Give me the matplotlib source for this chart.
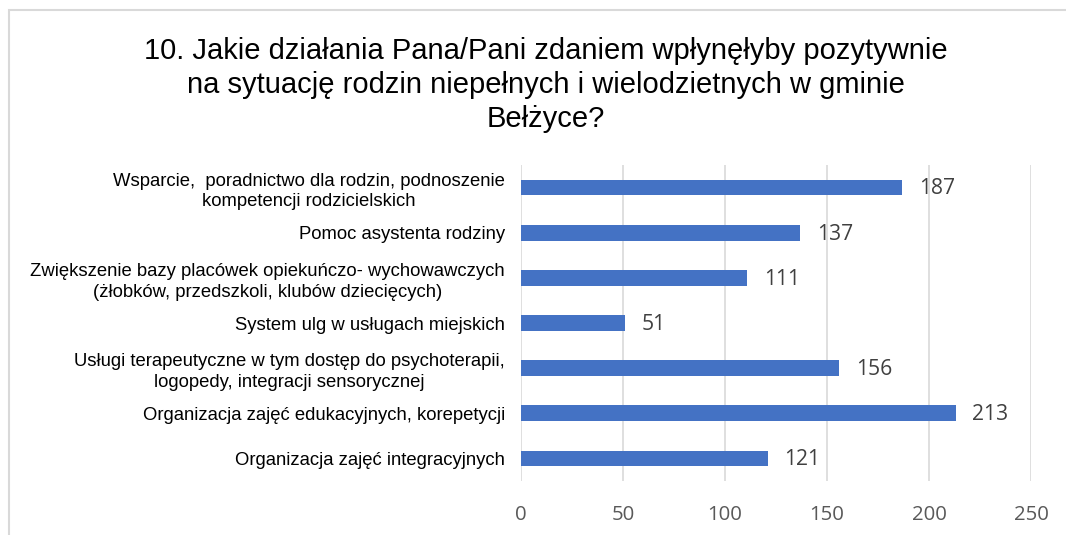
import matplotlib.pyplot as plt
from matplotlib.patches import Rectangle

categories = [
    "Wsparcie,  poradnictwo dla rodzin, podnoszenie\nkompetencji rodzicielskich",
    "Pomoc asystenta rodziny",
    "Zwiększenie bazy placówek opiekuńczo- wychowawczych\n(żłobków, przedszkoli, klubów dziecięcych)",
    "System ulg w usługach miejskich",
    "Usługi terapeutyczne w tym dostęp do psychoterapii,\nlogopedy, integracji sensorycznej",
    "Organizacja zajęć edukacyjnych, korepetycji",
    "Organizacja zajęć integracyjnych",
]
values = [187, 137, 111, 51, 156, 213, 121]
xticks = [0, 50, 100, 150, 200, 250]

title = ("10. Jakie działania Pana/Pani zdaniem wpłynęłyby pozytywnie\n"
         "na sytuację rodzin niepełnych i wielodzietnych w gminie\nBełżyce?")

fig = plt.figure(figsize=(10.66, 5.35), dpi=100)
fig.patches.append(Rectangle((9 / 1066, -0.01), 1.1, 1 - 10 / 535 + 0.01,
                             transform=fig.transFigure, fill=False,
                             edgecolor="#D9D9D9", linewidth=1.5))

ax = fig.add_axes([521 / 1066, 1 - 481 / 535, 510 / 1066, 316 / 535])
pos = list(range(len(categories)))
ax.barh(pos, values, height=0.35, color="#4472C4")
ax.set_ylim(len(categories) - 0.5, -0.5)
ax.set_xlim(0, 250)
ax.set_xticks(xticks)
ax.set_xticklabels([str(t) for t in xticks], family="Open Sans",
                   fontsize=14.7, color="#595959")
ax.set_yticks(pos)
ax.set_yticklabels(categories, family="Liberation Sans", fontsize=13.3,
                   color="#000000", multialignment="center", linespacing=1.3)
ax.tick_params(axis="both", length=0)
ax.tick_params(axis="y", pad=11.5)
ax.tick_params(axis="x", pad=17)
ax.grid(axis="x", color="#D9D9D9", linewidth=1.2)
ax.set_axisbelow(True)
for s in ax.spines.values():
    s.set_visible(False)

for p, v in zip(pos, values):
    ax.annotate(str(v), (v, p), xytext=(12, -1), textcoords="offset points",
                va="center", ha="left", family="Open Sans", fontsize=15.2,
                color="#404040")

fig.text(545.5 / 1066, 1 - 85 / 535, title, ha="center", va="center",
         family="Liberation Sans", fontsize=21, linespacing=1.28,
         color="#000000")

fig.savefig("out.png", dpi=100)
